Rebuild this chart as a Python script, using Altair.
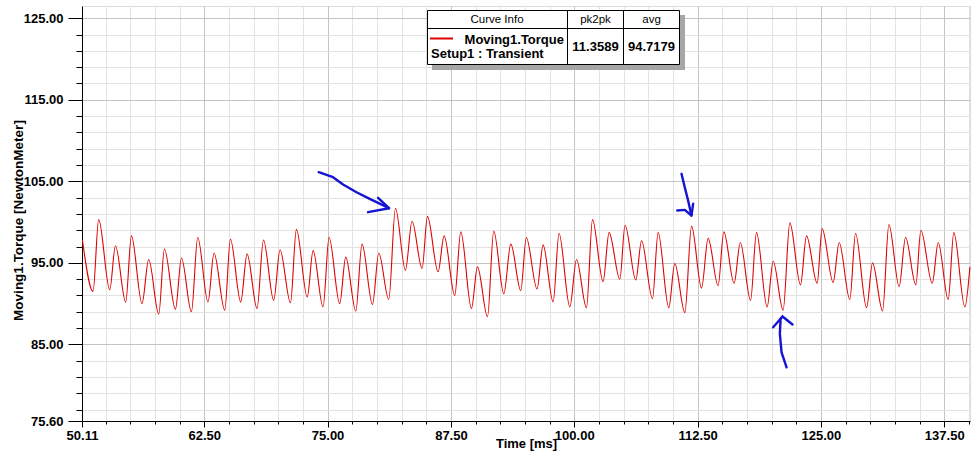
import altair as alt
import pandas as pd

# ---------------- data ----------------
time_ms = [50.15, 51.23, 51.80, 52.92, 53.50, 54.54, 55.12, 56.19, 56.87, 57.89,
           58.46, 59.58, 60.19, 61.20, 61.84, 62.88, 63.49, 64.58, 65.15, 66.20,
           66.84, 67.85, 68.50, 69.54, 70.18, 71.24, 71.84, 72.94, 73.53, 74.54,
           75.15, 76.23, 76.84, 77.86, 78.49, 79.55, 80.19, 81.20, 81.88, 82.89,
           83.56, 84.58, 85.12, 86.20, 86.81, 87.89, 88.50, 89.58, 90.19, 91.21,
           91.84, 92.86, 93.57, 94.58, 95.14, 96.23, 96.84, 97.86, 98.46, 99.55,
           100.23, 101.24, 101.85, 102.92, 103.53, 104.62, 105.15, 106.24, 106.82, 107.93,
           108.50, 109.58, 110.19, 111.21, 111.89, 112.90, 113.57, 114.58, 115.16, 116.20,
           116.83, 117.87, 118.47, 119.55, 120.16, 121.17, 121.85, 122.93, 123.54, 124.62,
           125.12, 126.24, 126.85, 127.93, 128.51, 129.63, 130.23, 131.25, 131.89, 132.93,
           133.58, 134.62, 135.13, 136.28, 136.89, 137.90, 138.47, 139.59, 140.10]
torque_nm = [97.8, 91.5, 100.3, 91.7, 97.1, 90.2, 98.3, 90.0, 95.4, 88.7,
             96.7, 89.3, 95.6, 89.0, 98.1, 90.2, 96.2, 89.2, 97.9, 90.2,
             96.1, 89.4, 97.8, 90.4, 96.6, 90.1, 99.1, 90.8, 96.5, 89.6,
             98.1, 90.0, 95.7, 89.1, 97.3, 89.9, 96.2, 90.5, 101.7, 94.1,
             100.1, 94.3, 100.7, 93.9, 98.3, 91.0, 98.8, 89.4, 94.5, 88.4,
             98.9, 91.2, 97.3, 91.6, 98.1, 91.8, 97.2, 90.2, 98.6, 89.6,
             95.4, 89.5, 100.3, 92.7, 98.7, 93.0, 99.6, 92.9, 97.7, 90.6,
             98.7, 89.5, 94.9, 88.9, 99.5, 91.9, 98.0, 92.2, 98.8, 92.5,
             97.5, 90.4, 98.7, 89.6, 95.2, 89.2, 99.9, 92.3, 98.3, 92.5,
             99.2, 92.6, 97.5, 90.5, 98.6, 89.5, 95.0, 89.1, 99.7, 92.1,
             98.1, 92.3, 99.0, 92.5, 97.5, 90.5, 98.7, 89.6, 94.5]

# hand-drawn blue annotation strokes (data coordinates)
stroke_id = ["a1"] * 6 + ["a1h"] * 3 + ["a2"] * 4 + ["a2h"] * 4 + ["a3"] * 5 + ["a3h"] * 3
stroke_t = [74.10, 75.55, 76.57, 77.93, 79.27, 81.23,
            80.12, 81.23, 79.10,
            110.87, 111.20, 111.54, 111.88,
            110.43, 111.20, 111.88, 112.05,
            121.52, 121.01, 120.84, 120.91, 121.11,
            120.16, 121.11, 122.12]
stroke_v = [106.12, 105.50, 104.61, 103.66, 102.85, 101.70,
            102.98, 101.70, 101.21,
            105.92, 104.28, 102.64, 100.80,
            101.42, 101.50, 100.80, 102.24,
            82.19, 84.03, 86.29, 88.13, 88.41,
            87.10, 88.41, 87.43]

x_ticks = [50.11] + [52.5 + 2.5 * i for i in range(36)]
y_ticks = [75.6] + [77 + 2 * i for i in range(25)]
x_domain = [50.11, 140.11]
y_domain = [75.6, 126.5]

legend_header = ["Curve Info", "pk2pk", "avg"]
legend_name = ["Moving1.Torque", "Setup1 : Transient"]
legend_stats = ["11.3589", "94.7179"]

FONT = "Liberation Sans"
RED = "#e00000"
BLUE = "#1414d2"

df = pd.DataFrame({"time": time_ms, "torque": torque_nm})
ann = pd.DataFrame({"sid": stroke_id, "time": stroke_t, "torque": stroke_v,
                    "ord": list(range(len(stroke_t)))})

X_MAJ = "(datum.value == 50.11 || abs(datum.value % 12.5) < 0.001)"
Y_MAJ = "(datum.value == 75.6 || abs((datum.value - 5) % 10) < 0.001)"

x_axis = alt.Axis(
    values=x_ticks, tickCount=500,
    title="Time [ms]",
    labelExpr=f"{X_MAJ} ? format(datum.value, '.2f') : ''",
    labelFlush=False, labelOverlap=False,
    labelFont=FONT, labelFontSize=13, labelFontWeight="bold", labelColor="black",
    labelBaseline="alphabetic", labelPadding=12,
    tickSize={"condition": {"test": X_MAJ, "value": 6}, "value": 3},
    tickColor="black",
    gridColor={"condition": {"test": X_MAJ, "value": "#c4c4c4"}, "value": "#e2e2e2"},
    domainColor="black",
    titleFont=FONT, titleFontSize=13, titleFontWeight="bold", titleColor="black",
    titleY=26, titleBaseline="alphabetic",
)
y_axis = alt.Axis(
    values=y_ticks, tickCount=500,
    title="Moving1.Torque [NewtonMeter]",
    labelExpr=f"{Y_MAJ} ? format(datum.value, '.2f') : ''",
    labelFlush=False, labelOverlap=False,
    labelFont=FONT, labelFontSize=13, labelFontWeight="bold", labelColor="black",
    labelPadding=5,
    tickSize={"condition": {"test": Y_MAJ, "value": 14}, "value": 6},
    tickColor="black",
    gridColor={"condition": {"test": Y_MAJ, "value": "#c4c4c4"}, "value": "#e2e2e2"},
    domainColor="black",
    titleFont=FONT, titleFontSize=13.5, titleFontWeight="bold", titleColor="black",
    titleX=-64, titleY=214, titleAngle=270, titleAlign="center", titleBaseline="middle",
)

x_enc = alt.X("time:Q", scale=alt.Scale(domain=x_domain, nice=False, zero=False), axis=x_axis)
y_enc = alt.Y("torque:Q", scale=alt.Scale(domain=y_domain, nice=False, zero=False), axis=y_axis)

curve = alt.Chart(df).mark_line(color=RED, strokeWidth=1.1, interpolate="monotone").encode(
    x=x_enc, y=y_enc)

arrows = alt.Chart(ann).mark_line(color=BLUE, strokeWidth=2.4, interpolate="linear",
                                  strokeCap="round", strokeJoin="round").encode(
    x=alt.X("time:Q", scale=alt.Scale(domain=x_domain, nice=False, zero=False)),
    y=alt.Y("torque:Q", scale=alt.Scale(domain=y_domain, nice=False, zero=False)),
    detail="sid:N", order="ord:Q")

one = pd.DataFrame({"k": [0]})


def rect(x, x2, y, y2, **kw):
    return alt.Chart(one).mark_rect(**kw).encode(
        x=alt.value(x), x2=alt.value(x2), y=alt.value(y), y2=alt.value(y2))


def rule(x, x2, y, y2, **kw):
    return alt.Chart(one).mark_rule(**kw).encode(
        x=alt.value(x), x2=alt.value(x2), y=alt.value(y), y2=alt.value(y2))


def text(s, x, y, align="center", weight="normal", size=13):
    return alt.Chart(one).mark_text(text=s, align=align, baseline="middle", font=FONT,
                                    fontSize=size, fontWeight=weight, color="black").encode(
        x=alt.value(x), y=alt.value(y))


legend = [
    rect(350, 603, 9, 64, fill="#a6a6a6"),
    rect(345.5, 597.5, 4.5, 58.5, fill="white", stroke="black", strokeWidth=1),
    rule(345.5, 597.5, 22.5, 22.5, color="black", strokeWidth=1),
    rule(485.5, 485.5, 4.5, 58.5, color="black", strokeWidth=1),
    rule(541.5, 541.5, 4.5, 58.5, color="black", strokeWidth=1),
    text(legend_header[0], 415, 14, size=11.5),
    text(legend_header[1], 513.5, 14, size=11.5),
    text(legend_header[2], 569.5, 14, size=11.5),
    rule(348, 371, 32.5, 32.5, color=RED, strokeWidth=2),
    text(legend_name[0], 482, 33.5, align="right", weight="bold"),
    text(legend_name[1], 349, 48, align="left", weight="bold"),
    text(legend_stats[0], 513.5, 41, weight="bold"),
    text(legend_stats[1], 569.5, 41, weight="bold"),
]

chart = alt.layer(curve, arrows, *legend).properties(
    width=888, height=415,
    autosize=alt.AutoSizeParams(type="none"),
    padding={"left": 82, "top": 6, "right": 10, "bottom": 38},
    background="white",
).configure_view(stroke="black", strokeWidth=1).configure(font=FONT)

chart.save("out.html", embed_options={"renderer": "svg", "actions": False})
